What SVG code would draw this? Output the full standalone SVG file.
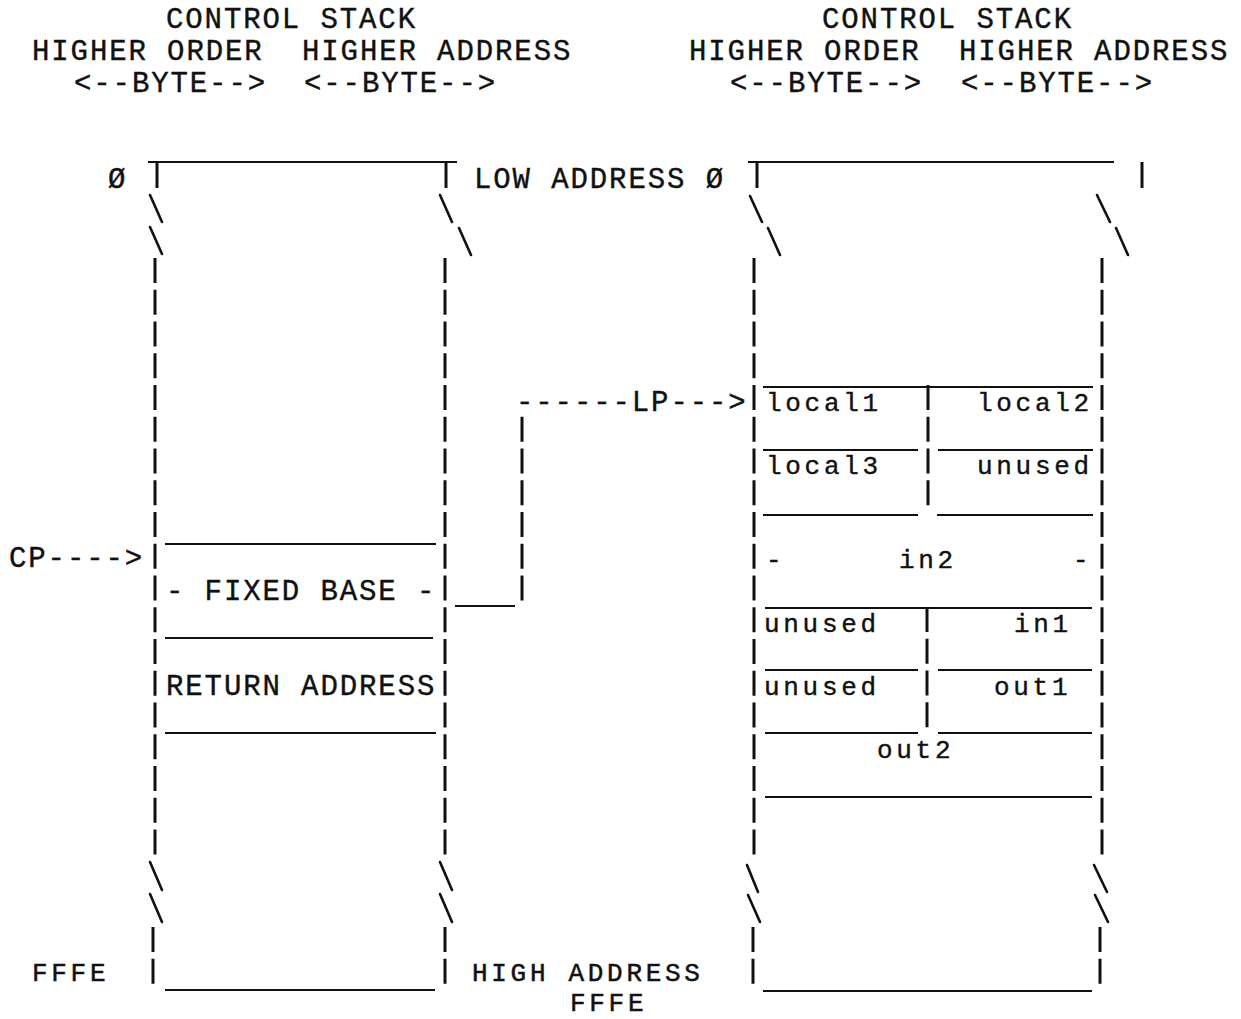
<svg xmlns="http://www.w3.org/2000/svg" width="1241" height="1019" viewBox="0 0 1241 1019">
<style>
.t{font-family:"Liberation Mono","DejaVu Sans Mono",monospace;font-size:29px;letter-spacing:1.9px;fill:#111;stroke:#111;stroke-width:0.4}
.u{font-family:"Liberation Mono","DejaVu Sans Mono",monospace;font-size:26px;letter-spacing:3.7px;fill:#111;stroke:#111;stroke-width:0.5}
.s{font-family:"Liberation Mono","DejaVu Sans Mono",monospace;font-size:26px;letter-spacing:3.7px;fill:#111;stroke:#111;stroke-width:0.4}
.h{stroke:#111;stroke-width:2.2;fill:none}
.v{stroke:#111;stroke-width:3;fill:none}
.d{stroke:#111;stroke-width:3;fill:none;stroke-dasharray:25 6.75}
.b{stroke:#111;stroke-width:2.6;fill:none;stroke-linecap:round}
</style>
<rect width="1241" height="1019" fill="#fff"/>
<g id="headings">
<text class="t" x="166" y="28">CONTROL STACK</text>
<text class="t" x="32" y="60">HIGHER ORDER</text>
<text class="t" x="302" y="60">HIGHER ADDRESS</text>
<text class="t" x="74" y="92">&lt;--BYTE--&gt;</text>
<text class="t" x="304" y="92">&lt;--BYTE--&gt;</text>
<text class="t" x="822" y="28">CONTROL STACK</text>
<text class="t" x="689" y="60">HIGHER ORDER</text>
<text class="t" x="959" y="60">HIGHER ADDRESS</text>
<text class="t" x="730" y="92">&lt;--BYTE--&gt;</text>
<text class="t" x="961" y="92">&lt;--BYTE--&gt;</text>
</g>
<g id="address-labels">
<text class="t" x="108" y="188">Ø</text>
<text class="t" x="474" y="188">LOW ADDRESS Ø</text>
<text class="u" x="32" y="981">FFFE</text>
<text class="u" x="472" y="981">HIGH ADDRESS</text>
<text class="u" x="570" y="1011">FFFE</text>
</g>
<g id="left-stack">
<line class="h" x1="148" y1="162" x2="457" y2="162"/>
<line class="v" x1="157" y1="163" x2="157" y2="188"/>
<line class="v" x1="446" y1="163" x2="446" y2="188"/>
<line class="b" x1="150" y1="195" x2="162" y2="222"/>
<line class="b" x1="150" y1="227" x2="162" y2="254"/>
<line class="b" x1="440" y1="195" x2="452" y2="222"/>
<line class="b" x1="459" y1="228" x2="471" y2="255"/>
<line class="d" x1="155" y1="258" x2="155" y2="856"/>
<line class="d" x1="445" y1="258" x2="445" y2="856"/>
<line class="b" x1="150" y1="862" x2="162" y2="890"/>
<line class="b" x1="150" y1="894" x2="162" y2="922"/>
<line class="b" x1="440" y1="862" x2="452" y2="890"/>
<line class="b" x1="440" y1="894" x2="452" y2="922"/>
<line class="d" x1="153" y1="927" x2="153" y2="990"/>
<line class="d" x1="445" y1="927" x2="445" y2="990"/>
<line class="h" x1="165" y1="544" x2="436" y2="544"/>
<line class="h" x1="165" y1="638" x2="433" y2="638"/>
<line class="h" x1="165" y1="733" x2="436" y2="733"/>
<line class="h" x1="165" y1="990" x2="435" y2="990"/>
<text class="t" x="166" y="600">- FIXED BASE -</text>
<text class="t" x="166" y="695">RETURN ADDRESS</text>
</g>
<g id="right-stack">
<line class="h" x1="748" y1="162" x2="1114" y2="162"/>
<line class="v" x1="757" y1="163" x2="757" y2="188"/>
<line class="v" x1="1142" y1="162" x2="1142" y2="188"/>
<line class="b" x1="750" y1="196" x2="762" y2="222"/>
<line class="b" x1="768" y1="228" x2="780" y2="255"/>
<line class="b" x1="1097" y1="195" x2="1110" y2="222"/>
<line class="b" x1="1116" y1="228" x2="1128" y2="255"/>
<line class="d" x1="754" y1="258" x2="754" y2="856"/>
<line class="d" x1="1102" y1="258" x2="1102" y2="856"/>
<line class="b" x1="747" y1="865" x2="758" y2="892"/>
<line class="b" x1="748" y1="895" x2="760" y2="922"/>
<line class="b" x1="1094" y1="865" x2="1107" y2="892"/>
<line class="b" x1="1095" y1="895" x2="1108" y2="922"/>
<line class="d" x1="753" y1="927" x2="753" y2="990"/>
<line class="d" x1="1100" y1="927" x2="1100" y2="990"/>
<line class="h" x1="763" y1="387" x2="1093" y2="387"/>
<line class="h" x1="763" y1="450" x2="918" y2="450"/>
<line class="h" x1="938" y1="450" x2="1093" y2="450"/>
<line class="h" x1="763" y1="515" x2="918" y2="515"/>
<line class="h" x1="937" y1="515" x2="1093" y2="515"/>
<line class="d" x1="928" y1="385" x2="928" y2="506"/>
<line class="h" x1="765" y1="608" x2="1092" y2="608"/>
<line class="d" x1="927" y1="607" x2="927" y2="728"/>
<line class="h" x1="765" y1="670" x2="918" y2="670"/>
<line class="h" x1="938" y1="670" x2="1092" y2="670"/>
<line class="h" x1="765" y1="733" x2="918" y2="733"/>
<line class="h" x1="938" y1="733" x2="1092" y2="733"/>
<line class="h" x1="765" y1="797" x2="1092" y2="797"/>
<line class="h" x1="763" y1="991" x2="1092" y2="991"/>
<text class="s" x="766" y="411">local1</text>
<text class="s" x="977" y="411">local2</text>
<text class="s" x="766" y="474">local3</text>
<text class="s" x="977" y="474">unused</text>
<text class="s" x="766" y="568">-</text>
<text class="s" x="899" y="568">in2</text>
<text class="s" x="1073" y="568">-</text>
<text class="s" x="764" y="632">unused</text>
<text class="s" x="1014" y="632">in1</text>
<text class="s" x="764" y="695">unused</text>
<text class="s" x="994" y="695">out1</text>
<text class="s" x="877" y="758">out2</text>
</g>
<g id="connectors">
<text class="t" x="9" y="567">CP----&gt;</text>
<text class="t" x="516" y="411">------LP---&gt;</text>
<line class="h" x1="455" y1="606" x2="515" y2="606"/>
<line class="d" x1="522" y1="416.75" x2="522" y2="606"/>
</g>
</svg>
